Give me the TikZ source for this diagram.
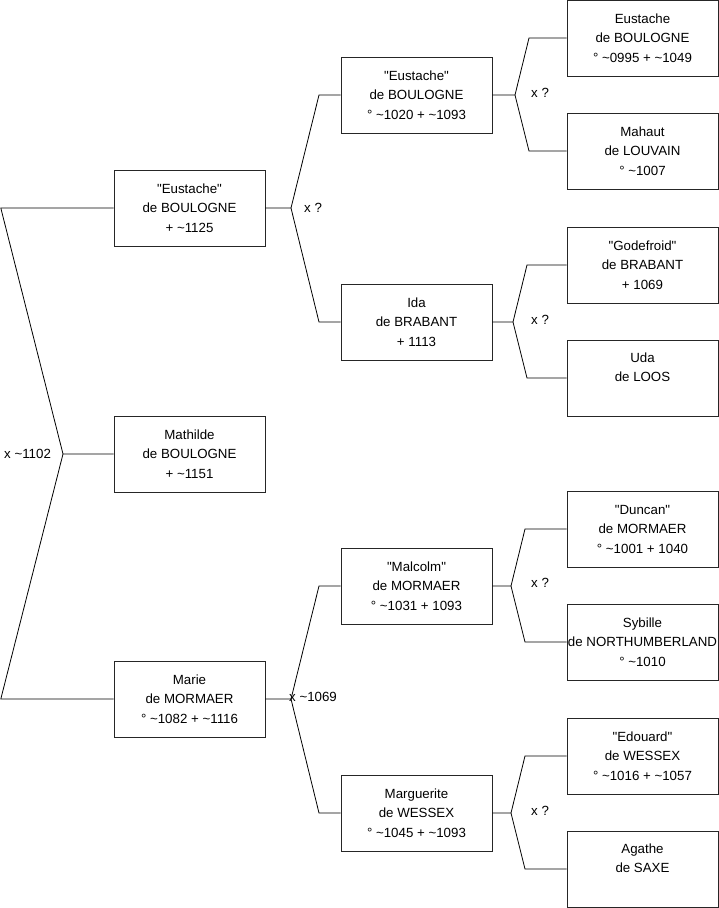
\documentclass[tikz,border=0pt]{standalone}
\usepackage{fontspec}
\setmainfont{Liberation Sans}[Ligatures=TeXOff]
\newcommand{\tl}{\textasciitilde}
\begin{document}
\begin{tikzpicture}[x=1pt,y=-1pt,
  person/.style={draw=black!85, line width=0.8pt, minimum width=151pt, minimum height=76pt,
    inner sep=0pt, align=center, font=\fontsize{13.3}{19.5}\selectfont},
  link/.style={draw=black, line width=0.8pt},
  mlabel/.style={font=\fontsize{13.3}{15}\selectfont, inner sep=0pt, anchor=west}]
\useasboundingbox (0,0) rectangle (719,908);
% column 1
\node[person] (eust1) at (189.5,208) {"Eustache"\\de BOULOGNE\\+ \tl1125};
\node[person] (math) at (189.5,454) {Mathilde\\de BOULOGNE\\+ \tl1151};
\node[person] (marie) at (189.5,699) {Marie\\de MORMAER\\° \tl1082 + \tl1116};
% column 2
\node[person] (eust2) at (416.5,95) {"Eustache"\\de BOULOGNE\\° \tl1020 + \tl1093};
\node[person] (ida) at (416.5,322) {Ida\\de BRABANT\\+ 1113};
\node[person] (malc) at (416.5,586) {"Malcolm"\\de MORMAER\\° \tl1031 + 1093};
\node[person] (marg) at (416.5,813) {Marguerite\\de WESSEX\\° \tl1045 + \tl1093};
% column 3
\node[person] (eust3) at (642.5,38) {Eustache\\de BOULOGNE\\° \tl0995 + \tl1049};
\node[person] (mahaut) at (642.5,151) {Mahaut\\de LOUVAIN\\° \tl1007};
\node[person] (gode) at (642.5,265) {"Godefroid"\\de BRABANT\\+ 1069};
\node[person] (uda) at (642.5,378) {Uda\\de LOOS\\[-4pt]\strut};
\node[person] (dunc) at (642.5,529) {"Duncan"\\de MORMAER\\° \tl1001 + 1040};
\node[person] (syb) at (642.5,642) {Sybille\\de NORTHUMBERLAND\\° \tl1010};
\node[person] (edou) at (642.5,756) {"Edouard"\\de WESSEX\\° \tl1016 + \tl1057};
\node[person] (agat) at (642.5,869) {Agathe\\de SAXE\\[-4pt]\strut};
% left brace (Mathilde)
\coordinate (jm) at (63,454);
\coordinate (bm1) at (0.8,208);
\coordinate (bm2) at (0.8,699);
\draw[link] (math.west) -- (jm) -- (bm1) -- (eust1.west);
\draw[link] (jm) -- (bm2) -- (marie.west);
\node[mlabel] (lm) at (4,454) {x \tl1102};
% Eustache (col1) parents
\coordinate (je1) at (291,208);
\draw[link] (eust1.east) -- (je1) -- (319,95) -- (eust2.west);
\draw[link] (je1) -- (319,322) -- (ida.west);
\node[mlabel] (le1) at (304,208) {x ?};
% Marie parents
\coordinate (jma) at (291,699);
\draw[link] (marie.east) -- (jma) -- (319,586) -- (malc.west);
\draw[link] (jma) -- (319,813) -- (marg.west);
\node[mlabel] (lma) at (289,697) {x \tl1069};
% Eustache (col2) parents
\coordinate (je2) at (515,95);
\draw[link] (eust2.east) -- (je2) -- (529,38) -- (eust3.west);
\draw[link] (je2) -- (529,151) -- (mahaut.west);
\node[mlabel] (le2) at (531,93) {x ?};
% Ida parents
\coordinate (ji) at (513,322);
\draw[link] (ida.east) -- (ji) -- (527,265) -- (gode.west);
\draw[link] (ji) -- (527,378) -- (uda.west);
\node[mlabel] (li) at (531,320) {x ?};
% Malcolm parents
\coordinate (jmc) at (511,586);
\draw[link] (malc.east) -- (jmc) -- (525,529) -- (dunc.west);
\draw[link] (jmc) -- (525,642) -- (syb.west);
\node[mlabel] (lmc) at (531,583) {x ?};
% Marguerite parents
\coordinate (jmg) at (511,813);
\draw[link] (marg.east) -- (jmg) -- (525,756) -- (edou.west);
\draw[link] (jmg) -- (525,869) -- (agat.west);
\node[mlabel] (lmg) at (531,811) {x ?};
\end{tikzpicture}
\end{document}
